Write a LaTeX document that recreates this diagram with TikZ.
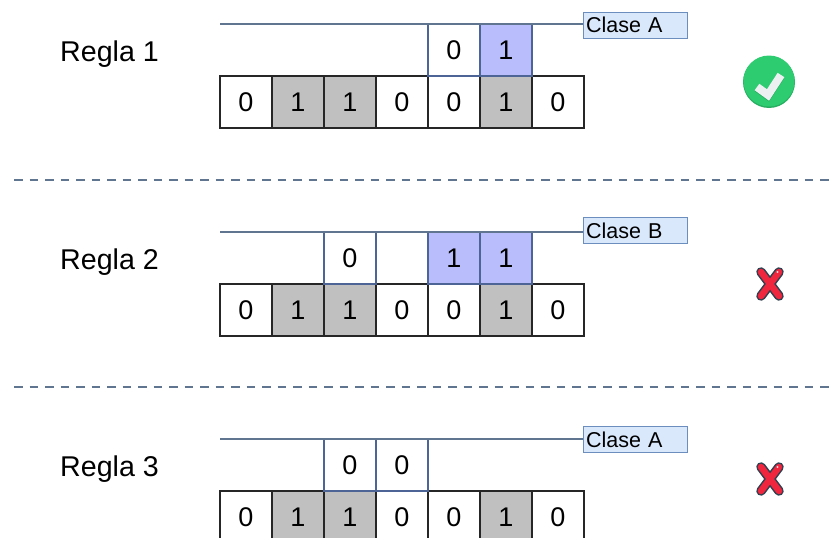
\documentclass[tikz,border=0pt]{standalone}
\usepackage{fontspec}
\setmainfont{Liberation Sans}
\usepackage{xcolor}
\usetikzlibrary{positioning}
\definecolor{regla-azul}{HTML}{4C6496}
\definecolor{regla-lila}{HTML}{B9BDFB}
\definecolor{linea-gris}{HTML}{5F7590}
\definecolor{celda-gris}{HTML}{C0C0C0}
\definecolor{clase-fondo}{HTML}{DAE8FC}
\definecolor{clase-borde}{HTML}{6C8EBF}
\definecolor{ok-verde}{HTML}{2ECC71}
\definecolor{ok-sombra}{HTML}{27AE60}
\definecolor{ok-blanco}{HTML}{ECF0F1}
\definecolor{cruz-rojo}{HTML}{F0263F}
\definecolor{cruz-borde}{HTML}{2F4050}
\tikzset{
    base-cell/.style = {draw=black!85, fill=white, line width=1.8pt, rectangle, minimum size=52pt, inner sep=0pt, outer sep=0pt, font=\fontsize{27}{27}\selectfont},
    base-gris/.style = {base-cell, fill=celda-gris},
    rule-cell/.style = {base-cell, draw=regla-azul, line width=2.5pt},
    rule-lila/.style = {rule-cell, fill=regla-lila},
    rule-line/.style = {draw=linea-gris, line width=1.6pt},
    clase-box/.style = {draw=clase-borde, fill=clase-fondo, line width=0.8pt, rectangle, minimum height=26pt, text width=98pt, inner xsep=3pt, inner ysep=0pt, outer sep=0pt, align=left, font=\fontsize{21.5}{22}\selectfont},
    regla-label/.style = {anchor=west, inner sep=0pt, font=\fontsize{28.6}{29}\selectfont},
    separador/.style = {draw=linea-gris, line width=2.2pt, dash pattern=on 8.5pt off 7pt},
    cruz/.pic = {
        \draw[cruz-borde, line width=9.5pt, line cap=round] (-9,-12) .. controls (-3,-4) and (3,4) .. (9,12);
        \draw[cruz-borde, line width=9.5pt, line cap=round] (9,-12) .. controls (3,-4) and (-3,4) .. (-9,12);
        \draw[cruz-rojo, line width=6.5pt, line cap=round] (-9,-12) .. controls (-3,-4) and (3,4) .. (9,12);
        \draw[cruz-rojo, line width=6.5pt, line cap=round] (9,-12) .. controls (3,-4) and (-3,4) .. (-9,12);
        \fill[white!80!cruz-rojo] (7.5,-12) circle (1.2);
    },
}
% fila de siete celdas
\newcommand{\filabase}[2]{
\node[base-cell] (#1-a) at (246,#2) {0};
\node[base-gris, right=0pt of #1-a] (#1-b) {1};
\node[base-gris, right=0pt of #1-b] (#1-c) {1};
\node[base-cell, right=0pt of #1-c] (#1-d) {0};
\node[base-cell, right=0pt of #1-d] (#1-e) {0};
\node[base-gris, right=0pt of #1-e] (#1-f) {1};
\node[base-cell, right=0pt of #1-f] (#1-g) {0};
}

\begin{document}
\begin{tikzpicture}[x=1pt, y=-1pt]
\clip (0,0) rectangle (831,538);

% Regla 1
\node[regla-label] (regla1) at (60,54) {Regla 1};
\filabase{b1}{102}
\node[rule-cell, above=0pt of b1-e] (r1-e) {0};
\node[rule-lila, above=0pt of b1-f] (r1-f) {1};
\node[clase-box] (clase1) at (635,25) {Clase A};
\coordinate (ini1) at (b1-a.west |- r1-e.north);
\draw[rule-line] (ini1) -- (ini1 -| clase1.west);

\coordinate (ok) at (769,82);
\fill[ok-sombra] (ok) circle (26);
\fill[ok-verde] (769,81) circle (25.5);
\draw[ok-sombra, line width=8pt] (757,88) -- (768,96) -- (781,76);
\draw[ok-blanco, line width=8pt] (757,87) -- (768,95) -- (781,75);

\draw[separador] (14,180) -- (830,180);

% Regla 2
\node[regla-label] (regla2) at (60,262) {Regla 2};
\filabase{b2}{310}
\node[rule-cell, above=0pt of b2-c] (r2-c) {0};
\node[rule-lila, above=0pt of b2-e] (r2-e) {1};
\node[rule-lila, above=0pt of b2-f] (r2-f) {1};
\node[clase-box] (clase2) at (635,230.5) {Clase B};
\coordinate (ini2) at (b2-a.west |- r2-c.north);
\draw[rule-line] (ini2) -- (ini2 -| clase2.west);

\pic at (770,284) {cruz};

\draw[separador] (14,387) -- (830,387);

% Regla 3
\node[regla-label] (regla3) at (60,469) {Regla 3};
\filabase{b3}{517}
\node[rule-cell, above=0pt of b3-c] (r3-c) {0};
\node[rule-cell, above=0pt of b3-d] (r3-d) {0};
\node[clase-box] (clase3) at (635,439.5) {Clase A};
\coordinate (ini3) at (b3-a.west |- r3-c.north);
\draw[rule-line] (ini3) -- (ini3 -| clase3.west);

\pic at (770,479) {cruz};
\end{tikzpicture}
\end{document}
